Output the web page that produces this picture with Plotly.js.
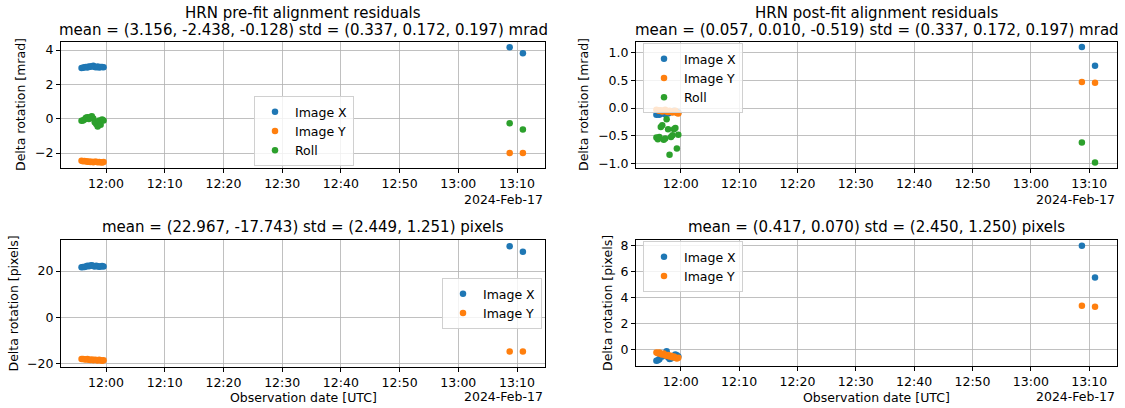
<!DOCTYPE html>
<html>
<head>
<meta charset="utf-8">
<script src="https://cdn.plot.ly/plotly-3.0.1.min.js"></script>
<style>html,body{margin:0;padding:0;background:#fff;}#chart{width:1125px;height:408px;}</style>
</head>
<body>
<div id="chart"></div>
<script>
// ---- data ----
const times = [
  '2024-02-17 11:55:50','2024-02-17 11:56:05','2024-02-17 11:56:20','2024-02-17 11:56:35',
  '2024-02-17 11:56:50','2024-02-17 11:57:05','2024-02-17 11:57:20','2024-02-17 11:57:35',
  '2024-02-17 11:57:50','2024-02-17 11:58:05','2024-02-17 11:58:20','2024-02-17 11:58:35',
  '2024-02-17 11:58:50','2024-02-17 11:59:05','2024-02-17 11:59:20','2024-02-17 11:59:35',
  '2024-02-17 13:08:45','2024-02-17 13:11:00'
];
const seriesNames3 = ['Image X','Image Y','Roll'];
const seriesNames2 = ['Image X','Image Y'];

const preRotX  = [2.95,2.97,3.00,3.02,2.98,3.05,3.03,3.06,3.08,3.02,3.00,3.04,2.99,3.02,3.01,3.00, 4.17,3.82];
const preRotY  = [-2.45,-2.47,-2.46,-2.48,-2.50,-2.49,-2.52,-2.50,-2.53,-2.51,-2.50,-2.54,-2.52,-2.53,-2.55,-2.52, -2.00,-2.00];
const preRoll  = [-0.12,-0.10,-0.05,0.05,0.08,-0.02,0.10,0.15,0.02,-0.20,-0.30,-0.45,-0.10,-0.35,-0.05,-0.10, -0.27,-0.62];

const postRotX = [-0.12,-0.11,-0.12,-0.10,-0.08,-0.10,-0.11,-0.09,-0.10,-0.08,-0.06,-0.07,-0.05,-0.06,-0.07,-0.08, 1.10,0.76];
const postRotY = [-0.03,-0.04,-0.05,-0.04,-0.06,-0.05,-0.03,-0.06,-0.07,-0.05,-0.06,-0.08,-0.06,-0.05,-0.09,-0.10, 0.47,0.455];
const postRoll = [-0.53,-0.56,-0.52,-0.34,-0.31,-0.57,-0.55,-0.20,-0.38,-0.84,-0.52,-0.49,-0.38,-0.36,-0.73,-0.48, -0.62,-0.98];

const prePixX  = [21.6,21.8,21.7,22.0,22.3,22.1,22.4,22.5,22.2,22.0,22.3,22.1,21.9,22.0,22.2,22.0, 30.7,28.3];
const prePixY  = [-17.9,-18.0,-18.1,-18.2,-18.0,-18.3,-18.4,-18.2,-18.5,-18.3,-18.4,-18.6,-18.3,-18.5,-18.7,-18.5, -14.7,-14.7];

const postPixX = [-0.82,-0.78,-0.72,-0.45,-0.50,-0.40,-0.30,-0.10,-0.55,-0.70,-0.65,-0.50,-0.45,-0.35,-0.40,-0.50, 8.00,5.57];
const postPixY = [-0.20,-0.25,-0.20,-0.30,-0.35,-0.28,-0.40,-0.45,-0.38,-0.50,-0.45,-0.55,-0.50,-0.60,-0.65,-0.60, 3.40,3.32];

const titles = [
  ['HRN pre-fit alignment residuals','mean = (3.156, -2.438, -0.128) std = (0.337, 0.172, 0.197) mrad'],
  ['HRN post-fit alignment residuals','mean = (0.057, 0.010, -0.519) std = (0.337, 0.172, 0.197) mrad'],
  ['mean = (22.967, -17.743) std = (2.449, 1.251) pixels'],
  ['mean = (0.417, 0.070) std = (2.450, 1.250) pixels']
];
const yLabels = ['Delta rotation [mrad]','Delta rotation [mrad]','Delta rotation [pixels]','Delta rotation [pixels]'];
const xLabel = 'Observation date [UTC]';
const dateLabel = '2024-Feb-17';

// ---- layout helpers ----
const W = 1125, H = 408;
const px = x => x / W;
const py = y => 1 - y / H;
const colors = ['#1f77b4','#ff7f0e','#2ca02c'];
const font = 'DejaVu Sans, sans-serif';

const boxes = [ // [left, right, top, bottom] in pixels
  [61, 545, 42, 168],
  [636, 1117, 42, 168],
  [61, 545, 240, 367],
  [636, 1117, 240, 366]
];

const panelSeries = [
  [preRotX, preRotY, preRoll],
  [postRotX, postRotY, postRoll],
  [prePixX, prePixY],
  [postPixX, postPixY]
];

const data = [];
panelSeries.forEach((ser, i) => {
  const names = ser.length === 3 ? seriesNames3 : seriesNames2;
  ser.forEach((vals, j) => {
    data.push({
      type: 'scatter', mode: 'markers',
      x: times, y: vals, name: names[j],
      marker: {color: colors[j], size: 6.5},
      xaxis: i === 0 ? 'x' : 'x' + (i + 1),
      yaxis: i === 0 ? 'y' : 'y' + (i + 1),
      legend: i === 0 ? 'legend' : 'legend' + (i + 1),
      hoverinfo: 'skip'
    });
  });
});

const xRange = ['2024-02-17 11:52:20', '2024-02-17 13:14:46'];
const yRanges = [[-2.87, 4.47], [-1.08, 1.19], [-21.4, 33.4], [-1.23, 8.44]];
const yDticks = [2, 0.5, 20, 2];
const yFormats = ['d', '.1f', 'd', 'd'];

const axisCommon = {
  showline: true, linecolor: 'black', linewidth: 1, mirror: true,
  ticks: 'outside', ticklen: 4, tickcolor: 'black', tickwidth: 1,
  showgrid: true, gridcolor: '#b0b0b0', gridwidth: 0.8, zeroline: false,
  tickfont: {family: font, size: 12.5, color: 'black'}
};

const layout = {
  width: W, height: H,
  margin: {l: 0, r: 0, t: 0, b: 0},
  paper_bgcolor: 'white', plot_bgcolor: 'white',
  font: {family: font, size: 12.5, color: 'black'},
  hovermode: false,
  annotations: []
};

const legendPos = [[254, 96], [643, 43], [442, 278], [643, 241]];

boxes.forEach((b, i) => {
  const sfx = i === 0 ? '' : String(i + 1);
  layout['xaxis' + sfx] = Object.assign({}, axisCommon, {
    type: 'date', range: xRange, domain: [px(b[0]), px(b[1])],
    anchor: 'y' + sfx, tick0: '2024-02-17 12:00:00', dtick: 600000, tickformat: '%H:%M'
  });
  layout['yaxis' + sfx] = Object.assign({}, axisCommon, {
    range: yRanges[i], domain: [py(b[3]), py(b[2])],
    anchor: 'x' + sfx, dtick: yDticks[i], tick0: 0, tickformat: yFormats[i]
  });
  layout['legend' + sfx] = {
    x: px(legendPos[i][0]), y: py(legendPos[i][1]), xanchor: 'left', yanchor: 'top',
    xref: 'paper', yref: 'paper',
    bgcolor: 'rgba(255,255,255,0.8)', bordercolor: '#d0d0d0', borderwidth: 1,
    font: {family: font, size: 12.5, color: 'black'}, tracegroupgap: 0
  };
  const cx = (b[0] + b[1]) / 2;
  const t = titles[i];
  const tTop = i < 2 ? [13, 30] : [227];
  t.forEach((line, k) => {
    layout.annotations.push({
      text: line, x: px(cx), y: py(tTop[k]), xref: 'paper', yref: 'paper',
      xanchor: 'center', yanchor: 'middle', showarrow: false,
      font: {family: font, size: 15, color: 'black'}
    });
  });
  // y label
  const ylx = [21, 584, 13, 607][i];
  layout.annotations.push({
    text: yLabels[i], x: px(ylx), y: py((b[2] + b[3]) / 2), xref: 'paper', yref: 'paper',
    xanchor: 'center', yanchor: 'middle', textangle: -90, showarrow: false,
    font: {family: font, size: 12.5, color: 'black'}
  });
  // date label
  layout.annotations.push({
    text: dateLabel, x: px(b[1]), y: py(i < 2 ? 199 : 396), xref: 'paper', yref: 'paper',
    xanchor: 'right', yanchor: 'middle', showarrow: false,
    font: {family: font, size: 12.5, color: 'black'}
  });
  if (i >= 2) {
    layout.annotations.push({
      text: xLabel, x: px(cx), y: py(397), xref: 'paper', yref: 'paper',
      xanchor: 'center', yanchor: 'middle', showarrow: false,
      font: {family: font, size: 12.5, color: 'black'}
    });
  }
});

Plotly.newPlot('chart', data, layout, {displayModeBar: false, staticPlot: true});
</script>
</body>
</html>
